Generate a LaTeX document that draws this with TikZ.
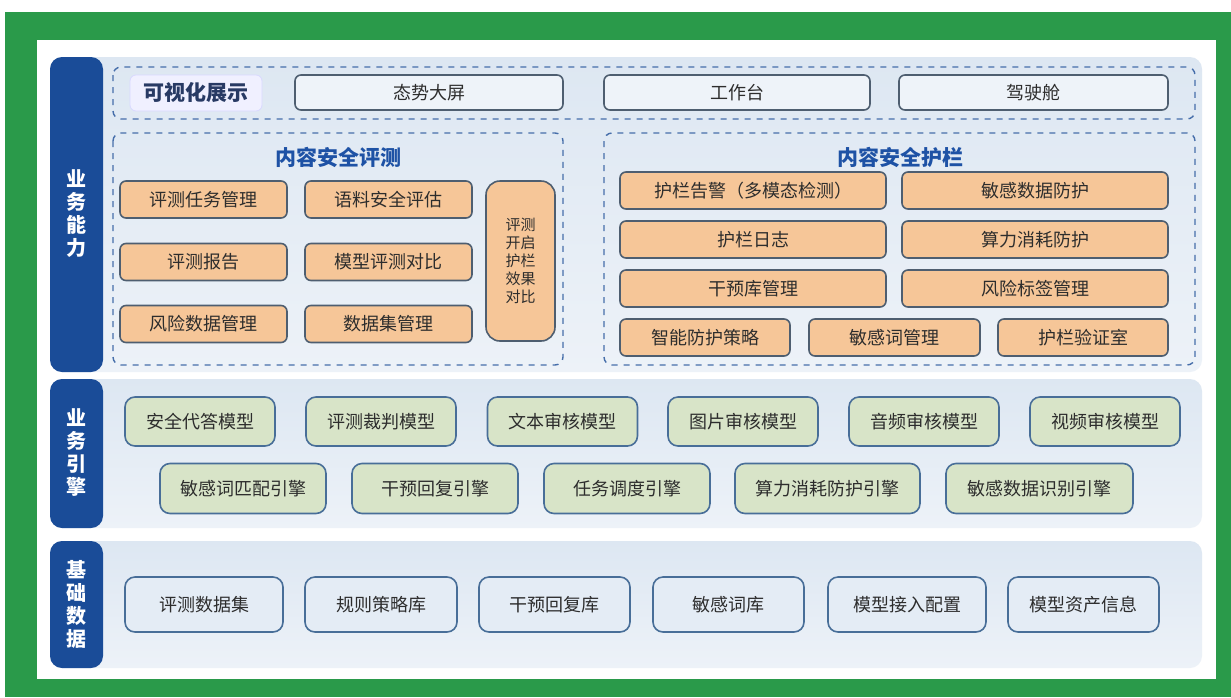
\documentclass[tikz,border=0pt]{standalone}
\usepackage{fontspec}
\setmainfont{Noto Sans CJK SC}

\definecolor{framegreen}{RGB}{42,154,74}
\definecolor{barblue}{RGB}{26,76,152}
\definecolor{panelfill}{RGB}{228,236,245}
\definecolor{paneltop}{RGB}{221,231,242}
\definecolor{panelbottom}{RGB}{237,242,248}
\definecolor{dashblue}{RGB}{70,110,170}
\definecolor{titleblue}{RGB}{30,82,165}
\definecolor{navytext}{RGB}{40,58,100}
\definecolor{orangefill}{RGB}{246,198,152}
\definecolor{greenfill}{RGB}{216,228,200}
\definecolor{topfill}{RGB}{238,243,249}
\definecolor{boxline}{RGB}{78,94,112}
\definecolor{dataline}{RGB}{72,110,152}
\definecolor{textgray}{RGB}{45,45,45}

\tikzset{
  box/.style={draw=boxline, line width=0.8pt, rounded corners=3pt, inner sep=0pt,
    text=textgray, font=\fontsize{9}{11}\selectfont},
  obox/.style={box, fill=orangefill},
  gbox/.style={box, fill=greenfill, draw=dataline, rounded corners=5pt},
  dbox/.style={box, fill=panelfill, draw=dataline, rounded corners=5pt},
  vbox/.style={box, fill=topfill},
  layerbar/.style={fill=barblue, rounded corners=6pt},
  layerpanel/.style={top color=paneltop, bottom color=panelbottom, rounded corners=6pt},
  barlabel/.style={text=white, align=center, font=\bfseries\fontsize{10}{11.5}\selectfont},
  dashframe/.style={draw=dashblue, dashed, line width=0.7pt, rounded corners=4pt},
  grouptitle/.style={text=titleblue, font=\bfseries\fontsize{10.5}{12}\selectfont}
}

\begin{document}
\begin{tikzpicture}[x=0.5pt,y=-0.5pt]
  \useasboundingbox (0,0) rectangle (1231,697);

  % frame
  \fill[white] (0,0) rectangle (1231,697);
  \fill[framegreen] (5,12) rectangle (1231,697);
  \fill[white] (37,40) rectangle (1216,679);

  % layers
  \path[layerpanel] (50,57) rectangle (1202,372);
  \path[layerpanel] (50,379) rectangle (1202,528);
  \path[layerpanel] (50,541) rectangle (1202,668);
  \fill[layerbar] (50,57) rectangle (103,372);
  \fill[layerbar] (50,379) rectangle (103,528);
  \fill[layerbar] (50,541) rectangle (103,668);
  \node[barlabel] (cap) at (76.5,214) {业\\务\\能\\力};
  \node[barlabel] (eng) at (76.5,453) {业\\务\\引\\擎};
  \node[barlabel] (dat) at (76.5,604) {基\\础\\数\\据};

  % visualisation
  \draw[dashframe] (113,67) rectangle (1195,119);
  \node[draw=blue!15, fill=blue!6, rounded corners=3pt, minimum width=66pt, minimum height=18pt,
    text=navytext, font=\bfseries\fontsize{10.5}{12}\selectfont] (vis) at (196,93) {可视化展示};
  \node[vbox, minimum width=134pt, minimum height=17.5pt] (v1) at (429,92.5) {态势大屏};
  \node[vbox, minimum width=133pt, minimum height=17.5pt] (v2) at (737,92.5) {工作台};
  \node[vbox, minimum width=134.5pt, minimum height=17.5pt] (v3) at (1033.5,92.5) {驾驶舱};

  % evaluation
  \draw[dashframe] (113,133) rectangle (563,365);
  \node[grouptitle] (evt) at (338,157) {内容安全评测};
  \node[obox, minimum width=83.5pt, minimum height=18.5pt] (e1) at (203.5,199.5) {评测任务管理};
  \node[obox, minimum width=83.5pt, minimum height=18.5pt] (e2) at (388.5,199.5) {语料安全评估};
  \node[obox, minimum width=83.5pt, minimum height=18.5pt] (e3) at (203.5,262) {评测报告};
  \node[obox, minimum width=83.5pt, minimum height=18.5pt] (e4) at (388.5,262) {模型评测对比};
  \node[obox, minimum width=83.5pt, minimum height=18.5pt] (e5) at (203.5,324) {风险数据管理};
  \node[obox, minimum width=83.5pt, minimum height=18.5pt] (e6) at (388.5,324) {数据集管理};
  \node[obox, rounded corners=7pt, minimum width=34.5pt, minimum height=80pt, align=center,
    font=\fontsize{7.5}{9}\selectfont] (e7) at (520.5,261) {评测\\开启\\护栏\\效果\\对比};

  % guardrail
  \draw[dashframe] (604,133) rectangle (1195,365);
  \node[grouptitle] (grt) at (900,157) {内容安全护栏};
  \node[obox, minimum width=133pt, minimum height=18.5pt] (g1) at (753,190.5) {护栏告警（多模态检测）};
  \node[obox, minimum width=133pt, minimum height=18.5pt] (g2) at (1035,190.5) {敏感数据防护};
  \node[obox, minimum width=133pt, minimum height=18.5pt] (g3) at (753,239.5) {护栏日志};
  \node[obox, minimum width=133pt, minimum height=18.5pt] (g4) at (1035,239.5) {算力消耗防护};
  \node[obox, minimum width=133pt, minimum height=18.5pt] (g5) at (753,288.5) {干预库管理};
  \node[obox, minimum width=133pt, minimum height=18.5pt] (g6) at (1035,288.5) {风险标签管理};
  \node[obox, minimum width=85pt, minimum height=18.5pt] (g7) at (705,337.5) {智能防护策略};
  \node[obox, minimum width=85.5pt, minimum height=18.5pt] (g8) at (894.5,337.5) {敏感词管理};
  \node[obox, minimum width=85pt, minimum height=18.5pt] (g9) at (1083,337.5) {护栏验证室};

  % engines
  \node[gbox, minimum width=75pt, minimum height=24.5pt] (m1) at (200,421.5) {安全代答模型};
  \node[gbox, minimum width=75pt, minimum height=24.5pt] (m2) at (381,421.5) {评测裁判模型};
  \node[gbox, minimum width=75pt, minimum height=24.5pt] (m3) at (562.5,421.5) {文本审核模型};
  \node[gbox, minimum width=75pt, minimum height=24.5pt] (m4) at (743,421.5) {图片审核模型};
  \node[gbox, minimum width=75pt, minimum height=24.5pt] (m5) at (924,421.5) {音频审核模型};
  \node[gbox, minimum width=75pt, minimum height=24.5pt] (m6) at (1105,421.5) {视频审核模型};
  \node[gbox, minimum width=83pt, minimum height=25pt] (n1) at (243,488.5) {敏感词匹配引擎};
  \node[gbox, minimum width=83pt, minimum height=25pt] (n2) at (435,488.5) {干预回复引擎};
  \node[gbox, minimum width=83pt, minimum height=25pt] (n3) at (627,488.5) {任务调度引擎};
  \node[gbox, minimum width=92.5pt, minimum height=25pt] (n4) at (827.5,488.5) {算力消耗防护引擎};
  \node[gbox, minimum width=93.5pt, minimum height=25pt] (n5) at (1039.5,488.5) {敏感数据识别引擎};

  % base data
  \node[dbox, minimum width=79pt, minimum height=27.5pt] (d1) at (204,604.5) {评测数据集};
  \node[dbox, minimum width=76pt, minimum height=27.5pt] (d2) at (381,604.5) {规则策略库};
  \node[dbox, minimum width=75.5pt, minimum height=27.5pt] (d3) at (554.5,604.5) {干预回复库};
  \node[dbox, minimum width=75.5pt, minimum height=27.5pt] (d4) at (728.5,604.5) {敏感词库};
  \node[dbox, minimum width=79pt, minimum height=27.5pt] (d5) at (907,604.5) {模型接入配置};
  \node[dbox, minimum width=75.5pt, minimum height=27.5pt] (d6) at (1083.5,604.5) {模型资产信息};

\end{tikzpicture}
\end{document}
